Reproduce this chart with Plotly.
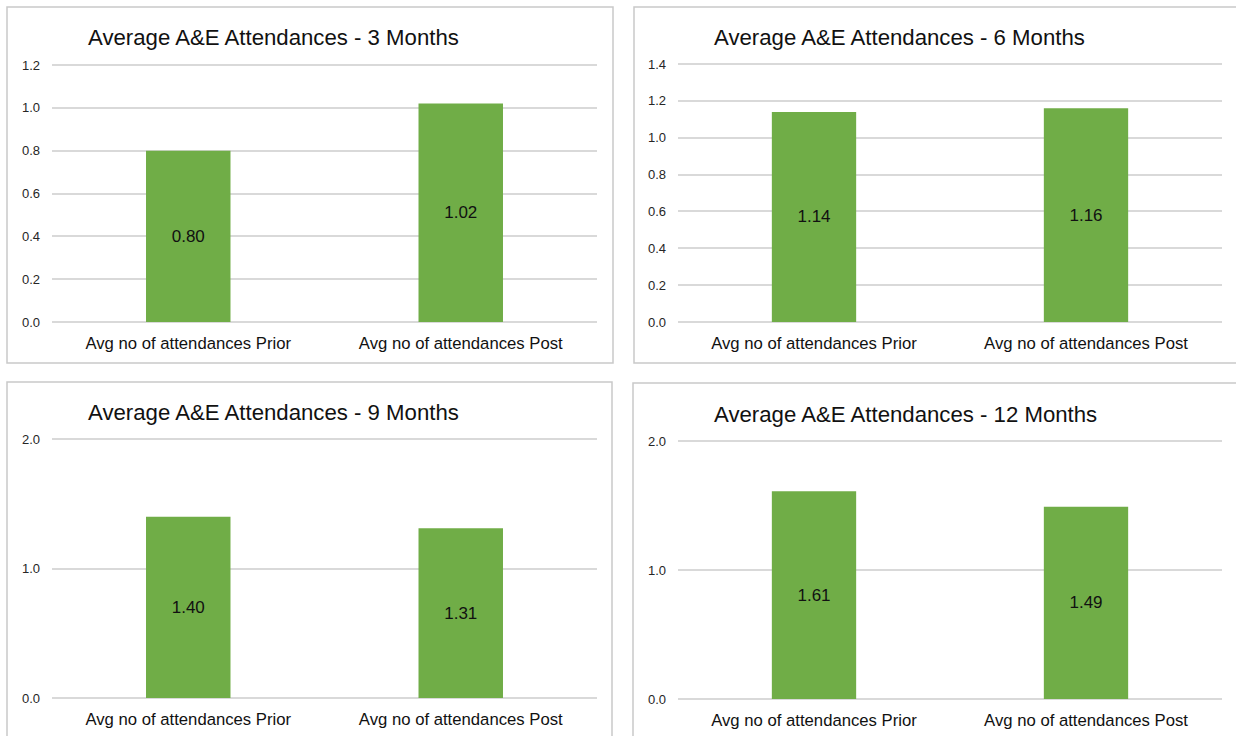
import plotly.graph_objects as go

# Data
categories = ["Avg no of attendances Prior", "Avg no of attendances Post"]
titles = [
    "Average A&E Attendances - 3 Months",
    "Average A&E Attendances - 6 Months",
    "Average A&E Attendances - 9 Months",
    "Average A&E Attendances - 12 Months",
]
values_3m = [0.80, 1.02]
values_6m = [1.14, 1.16]
values_9m = [1.40, 1.31]
values_12m = [1.61, 1.49]
y_max = [1.2, 1.4, 2.0, 2.0]
y_step = [0.2, 0.2, 1.0, 1.0]

W, H = 1236, 736
FONT = "Arial, Liberation Sans, sans-serif"
GREEN = "#70AD47"
GRID = "#D9D9D9"
BORDER = "#C9C9C9"
PAD_PX = 2  # headroom above the top tick so its gridline is drawn


def px_x(p):
    return p / W


def px_y(p):
    return 1 - p / H


# Layout of each panel in pixels: plot left, right, top, bottom; frame; title pos
panels = [
    dict(pl=52, pr=597, pt=65, pb=322, frame=(7, 7, 613, 363), title=(86, 37)),
    dict(pl=678, pr=1222, pt=64, pb=322, frame=(634, 7, 1245, 363), title=(712, 37)),
    dict(pl=52, pr=597, pt=439, pb=698, frame=(7, 382, 612, 745), title=(86, 412)),
    dict(pl=678, pr=1222, pt=441, pb=699, frame=(633, 383, 1245, 745), title=(712, 414)),
]
series = [values_3m, values_6m, values_9m, values_12m]

fig = go.Figure()
layout = dict(
    width=W,
    height=H,
    autosize=False,
    margin=dict(l=0, r=0, t=0, b=0, pad=0, autoexpand=False),
    paper_bgcolor="white",
    plot_bgcolor="white",
    showlegend=False,
    font=dict(family=FONT),
    shapes=[],
    annotations=[],
)

for i, (p, vals) in enumerate(zip(panels, series)):
    n = "" if i == 0 else str(i + 1)
    fig.add_trace(go.Bar(
        x=categories,
        y=vals,
        xaxis="x" + n,
        yaxis="y" + n,
        width=0.31,
        marker=dict(color=GREEN, line=dict(width=0)),
        texttemplate="%{y:.2f}",
        textposition="inside",
        insidetextanchor="middle",
        textangle=0,
        textfont=dict(family=FONT, size=17, color="#111111"),
        hoverinfo="skip",
    ))
    layout["xaxis" + n] = dict(
        domain=[px_x(p["pl"]), px_x(p["pr"])],
        anchor="y" + n,
        type="category",
        range=[-0.5, 1.5],
        showgrid=False,
        zeroline=False,
        showline=False,
        ticks="",
        automargin=False,
        ticklabelstandoff=9,
        tickfont=dict(family=FONT, size=16.7, color="#111111"),
        fixedrange=True,
    )
    # extend the value range by a couple of pixels so the top gridline shows
    span_px = p["pb"] - p["pt"]
    top_val = y_max[i] * (span_px + PAD_PX) / span_px
    layout["yaxis" + n] = dict(
        domain=[px_y(p["pb"]), px_y(p["pt"] - PAD_PX)],
        anchor="x" + n,
        range=[0, top_val],
        dtick=y_step[i],
        tick0=0,
        tickformat=".1f",
        showgrid=True,
        gridcolor=GRID,
        gridwidth=1.5,
        zeroline=True,
        zerolinecolor=GRID,
        zerolinewidth=1.5,
        showline=False,
        ticks="",
        automargin=False,
        ticklabelstandoff=11,
        tickfont=dict(family=FONT, size=13, color="#262626"),
        fixedrange=True,
    )
    fx0, fy0, fx1, fy1 = p["frame"]
    layout["shapes"].append(dict(
        type="rect", xref="paper", yref="paper",
        x0=px_x(fx0), x1=px_x(fx1), y0=px_y(fy1), y1=px_y(fy0),
        line=dict(color=BORDER, width=1.5), fillcolor="rgba(0,0,0,0)", layer="below",
    ))
    tx, ty = p["title"]
    layout["annotations"].append(dict(
        text=titles[i], xref="paper", yref="paper",
        x=px_x(tx), y=px_y(ty), xanchor="left", yanchor="middle",
        showarrow=False, font=dict(family=FONT, size=22.2, color="#111111"),
    ))

fig.update_layout(**layout)
fig.write_html("out.html")
